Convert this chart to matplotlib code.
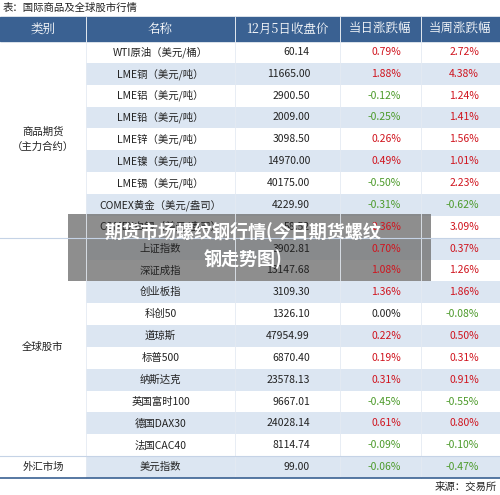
import matplotlib.pyplot as plt
from matplotlib.patches import Rectangle

plt.rcParams['font.family'] = ['Noto Sans CJK SC', 'DejaVu Sans']

headers = ['类别', '名称', '12月5日收盘价', '当日涨跌幅', '当周涨跌幅']
names = ['WTI原油（美元/桶）', 'LME铜（美元/吨）', 'LME铝（美元/吨）', 'LME铅（美元/吨）',
         'LME锌（美元/吨）', 'LME镍（美元/吨）', 'LME锡（美元/吨）', 'COMEX黄金（美元/盎司）',
         'COMEX白银（美元/盎司）',
         '上证指数', '深证成指', '创业板指', '科创50', '道琼斯', '标普500', '纳斯达克',
         '英国富时100', '德国DAX30', '法国CAC40', '美元指数']
prices = ['60.14', '11665.00', '2900.50', '2009.00', '3098.50', '14970.00', '40175.00',
          '4229.90', '58.52', '3902.81', '13147.68', '3109.30', '1326.10', '47954.99',
          '6870.40', '23578.13', '9667.01', '24028.14', '8114.74', '99.00']
day_chg = [0.79, 1.88, -0.12, -0.25, 0.26, 0.49, -0.50, -0.31, 2.36, 0.70, 1.08, 1.36,
           0.00, 0.22, 0.19, 0.31, -0.45, 0.61, -0.09, -0.06]
week_chg = [2.72, 4.38, 1.24, 1.41, 1.56, 1.01, 2.23, -0.62, 3.09, 0.37, 1.26, 1.86,
            -0.08, 0.50, 0.31, 0.91, -0.55, 0.80, -0.10, -0.47]
groups = [('商品期货\n（主力合约）', 0, 9), ('全球股市', 9, 19), ('外汇市场', 19, 20)]

W, H = 500, 495
fig = plt.figure(figsize=(5.0, 4.95), dpi=100)
ax = fig.add_axes([0, 0, 1, 1])
ax.set_xlim(0, W)
ax.set_ylim(H, 0)
ax.axis('off')

col_x = [0, 86, 235, 340, 421, 500]
top, hh, rh = 17, 24, 21.85
y0 = top + hh

ax.text(3, 8, '表：国际商品及全球股市行情', fontsize=7.5, va='center', color='#222222')
ax.add_patch(Rectangle((0, top), W, hh, color='#3a6192'))
for i, h in enumerate(headers):
    ax.text((col_x[i] + col_x[i + 1]) / 2, top + hh / 2, h, color='white', fontsize=9,
            ha='center', va='center', family=['Noto Serif CJK SC', 'Noto Sans CJK SC', 'DejaVu Sans'])
    if i > 0:
        ax.plot([col_x[i]] * 2, [top, top + hh], color='white', lw=0.6)


def pcol(v):
    if v > 0:
        return '#d0141e'
    if v < 0:
        return '#4c9a2a'
    return '#222222'


for r in range(len(names)):
    y = y0 + r * rh
    if r % 2 == 1:
        ax.add_patch(Rectangle((86, y), W - 86, rh, color='#dce6f2', lw=0))
    cy = y + rh / 2
    ax.text((col_x[1] + col_x[2]) / 2, cy, names[r], fontsize=7.5, ha='center', va='center', color='#222222')
    ax.text(310, cy, prices[r], fontsize=7.5, ha='right', va='center', color='#222222')
    ax.text(401, cy, f'{day_chg[r]:.2f}%', fontsize=7.5, ha='right', va='center', color=pcol(day_chg[r]))
    ax.text(479, cy, f'{week_chg[r]:.2f}%', fontsize=7.5, ha='right', va='center', color=pcol(week_chg[r]))

for c in col_x[2:5]:
    ax.plot([c, c], [y0, y0 + len(names) * rh], color='#e4eaf2', lw=0.6)
ax.plot([86, 86], [y0, y0 + len(names) * rh], color='#e4eaf2', lw=0.6)

for label, a, b in groups:
    ax.text(43, y0 + (a + b) / 2 * rh, label, fontsize=7.5, ha='center', va='center',
            color='#222222', linespacing=1.6)
    if b < len(names):
        ax.plot([0, W], [y0 + b * rh] * 2, color='#c5d3e6', lw=0.8)
ax.plot([0, W], [y0 + len(names) * rh] * 2, color='#3a6192', lw=1.2)
ax.text(497, 487, '来源：交易所', fontsize=7.5, ha='right', va='center', color='#222222')

ax.add_patch(Rectangle((68, 214), 363, 67, color='#7a7a7a', alpha=0.85, lw=0))
ax.text(243, 231, '期货市场螺纹钢行情(今日期货螺纹', fontsize=13, fontweight='bold',
        color='white', ha='center', va='center')
ax.text(243, 259, '钢走势图)', fontsize=13, fontweight='bold', color='white',
        ha='center', va='center')

fig.savefig('out.png', dpi=100)
